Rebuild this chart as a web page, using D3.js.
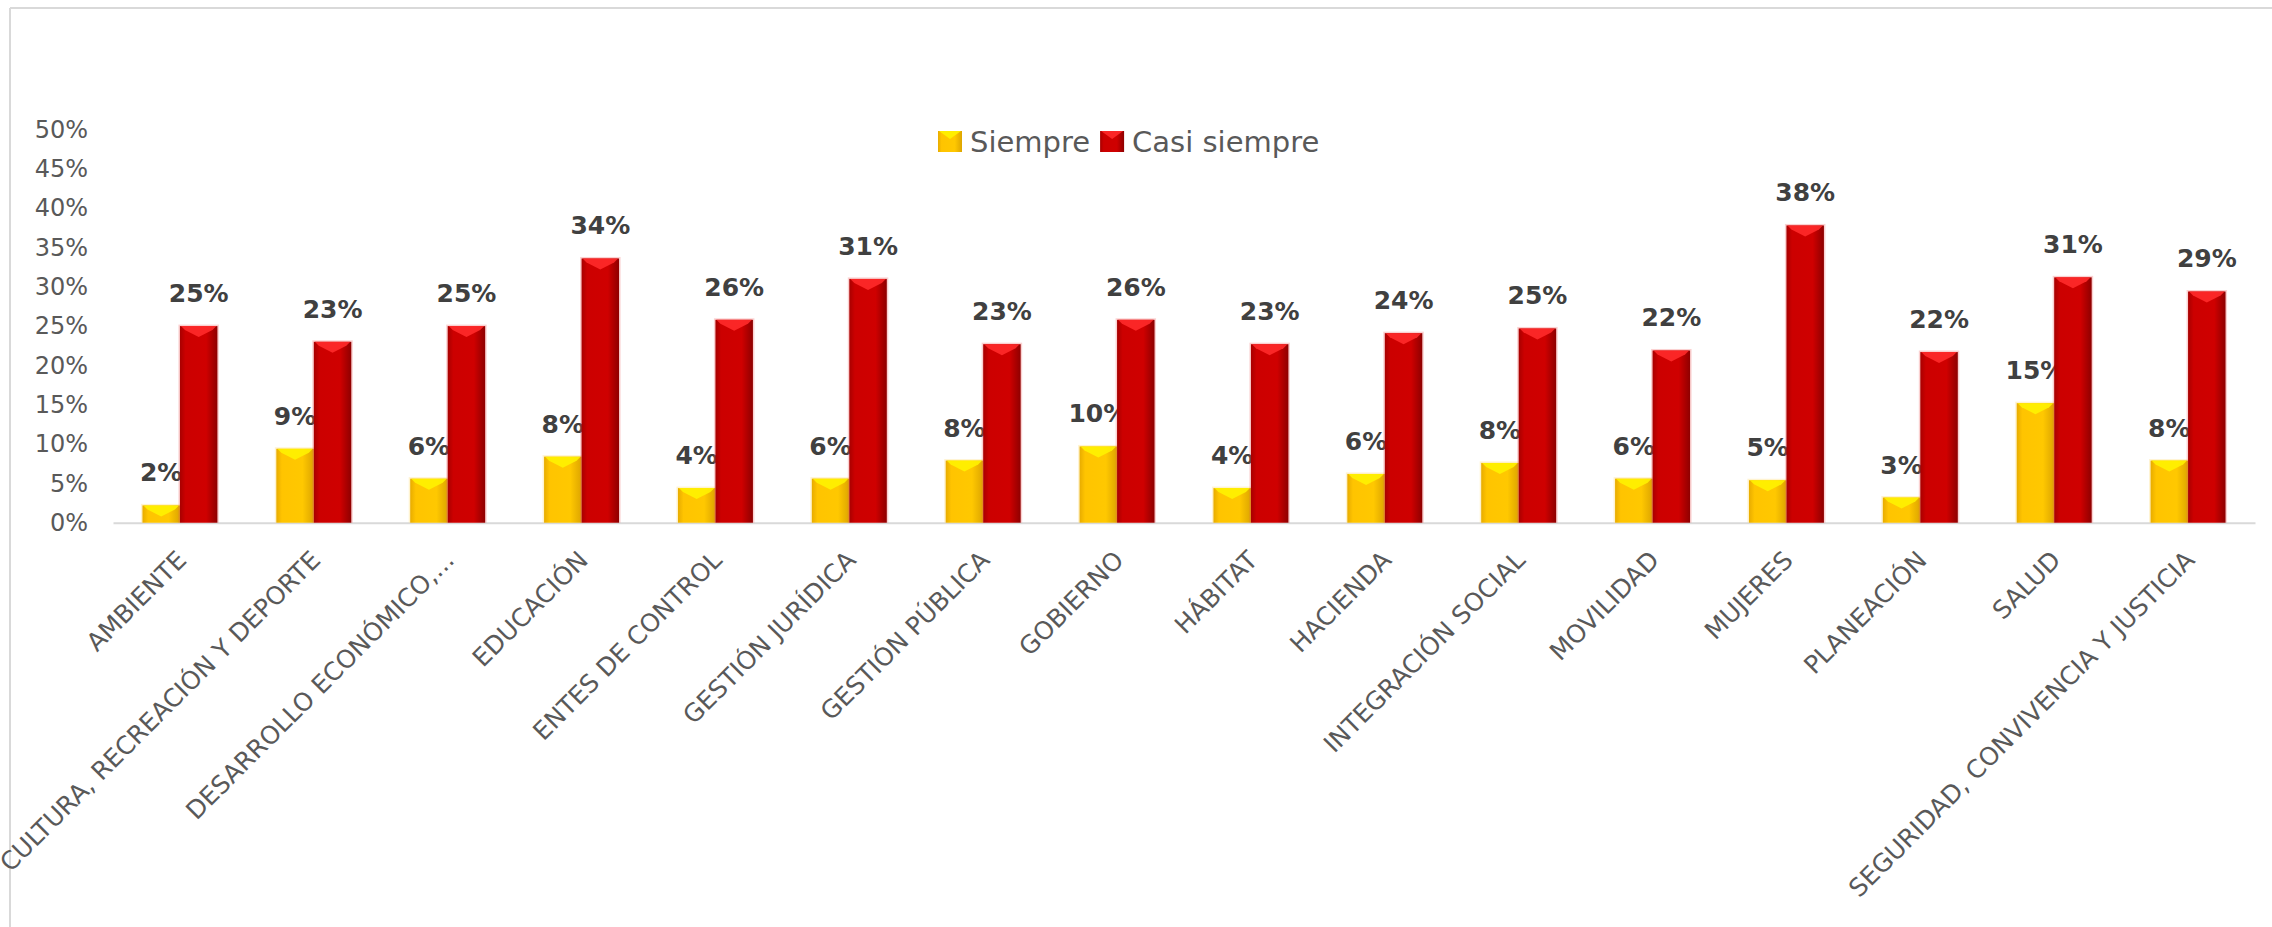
<!DOCTYPE html>
<html>
<head>
<meta charset="utf-8">
<script src="https://cdn.jsdelivr.net/npm/d3@7"></script>
<style>
  html, body { margin: 0; padding: 0; background: #ffffff; }
  svg { display: block; }
</style>
</head>
<body>
<svg id="chart" width="2272" height="927"></svg>
<script>
// ---------------- data ----------------
const categories = [
  "AMBIENTE",
  "CULTURA, RECREACIÓN Y DEPORTE",
  "DESARROLLO ECONÓMICO,...",
  "EDUCACIÓN",
  "ENTES DE CONTROL",
  "GESTIÓN JURÍDICA",
  "GESTIÓN PÚBLICA",
  "GOBIERNO",
  "HÁBITAT",
  "HACIENDA",
  "INTEGRACIÓN SOCIAL",
  "MOVILIDAD",
  "MUJERES",
  "PLANEACIÓN",
  "SALUD",
  "SEGURIDAD, CONVIVENCIA Y JUSTICIA"
];
const seriesNames = ["Siempre", "Casi siempre"];
const siempre      = [0.022, 0.094, 0.056, 0.084, 0.044, 0.056, 0.079, 0.097, 0.044, 0.062, 0.076, 0.056, 0.054, 0.032, 0.152, 0.079];
const casiSiempre  = [0.250, 0.230, 0.250, 0.336, 0.258, 0.310, 0.227, 0.258, 0.227, 0.241, 0.247, 0.219, 0.378, 0.217, 0.312, 0.294];
const yTicks = [0, 0.05, 0.10, 0.15, 0.20, 0.25, 0.30, 0.35, 0.40, 0.45, 0.50];

// ---------------- layout ----------------
const svg = d3.select("#chart");
const W = 2272, H = 927;
const plot = { left: 113, right: 2255, top: 129.5, bottom: 522.7 };

const x0 = d3.scaleBand().domain(categories).range([plot.left, plot.right])
  .paddingInner(0.44).paddingOuter(0.22);
const x1 = d3.scaleBand().domain(seriesNames).range([0, x0.bandwidth()]).padding(0);
const y = d3.scaleLinear().domain([0, 0.5]).range([plot.bottom, plot.top]);
const fmt = d3.format(".0%");

// frame
svg.append("line").attr("x1", 10).attr("x2", W).attr("y1", 8).attr("y2", 8)
  .attr("stroke", "#d9d9d9").attr("stroke-width", 2);
svg.append("line").attr("x1", 10).attr("x2", 10).attr("y1", 8).attr("y2", H)
  .attr("stroke", "#d9d9d9").attr("stroke-width", 2);

// gradients
const defs = svg.append("defs");
function grad(id, stops) {
  const g = defs.append("linearGradient").attr("id", id)
    .attr("x1", "0%").attr("x2", "100%").attr("y1", "0%").attr("y2", "0%");
  stops.forEach(s => g.append("stop").attr("offset", s[0]).attr("stop-color", s[1]));
}
grad("gY", [["0%", "#e8ac00"], ["15%", "#ffc400"], ["70%", "#ffc800"], ["100%", "#dda500"]]);
grad("gR", [["0%", "#a80000"], ["15%", "#cc0000"], ["70%", "#cf0000"], ["100%", "#8e0000"]]);
const fills = { "Siempre": "url(#gY)", "Casi siempre": "url(#gR)" };
const tops  = { "Siempre": "#fff200", "Casi siempre": "#ff2a2a" };
const glow  = { "Siempre": "rgba(255,220,120,0.35)", "Casi siempre": "rgba(240,90,90,0.28)" };

// y axis
const yAxis = svg.append("g").attr("transform", `translate(${plot.left},0)`)
  .call(d3.axisLeft(y).tickValues(yTicks).tickFormat(fmt).tickSize(0).tickPadding(25));
yAxis.select(".domain").remove();
yAxis.selectAll("text")
  .attr("font-family", "DejaVu Sans").attr("font-size", 24).attr("fill", "#595959");

// x axis
const xAxis = svg.append("g").attr("transform", `translate(0,${plot.bottom})`)
  .call(d3.axisBottom(x0).tickSize(0));
xAxis.select(".domain").attr("stroke", "#d9d9d9").attr("stroke-width", 2);
xAxis.selectAll("text")
  .attr("font-family", "DejaVu Sans").attr("font-size", 25).attr("fill", "#595959")
  .attr("text-anchor", "end").attr("x", 0).attr("y", 0).attr("dy", 0)
  .attr("transform", "translate(8,39) rotate(-45)");

// bars
const data = categories.map((c, i) => ({ cat: c, vals: [
  { s: "Siempre", v: siempre[i] },
  { s: "Casi siempre", v: casiSiempre[i] }
]}));

function drawSeries(name) {
  const g = svg.append("g");
  data.forEach(d => {
    const item = d.vals.find(e => e.s === name);
    const bx = x0(d.cat) + x1(name), bw = x1.bandwidth();
    const yt = y(item.v), yb = y(0);
    g.append("rect").attr("x", bx - 1.5).attr("y", yt - 1.5)
      .attr("width", bw + 3).attr("height", yb - yt + 1.5)
      .attr("fill", glow[name]);
    g.append("rect").attr("x", bx).attr("y", yt)
      .attr("width", bw).attr("height", yb - yt)
      .attr("fill", fills[name]);
    g.append("polygon")
      .attr("points", [[bx + 1, yt], [bx + bw - 1, yt], [bx + bw - 5, yt + 4],
                       [bx + bw / 2, yt + 11], [bx + 5, yt + 4]].map(p => p.join(",")).join(" "))
      .attr("fill", tops[name]).attr("opacity", 0.9);
    g.append("text")
      .attr("x", bx + bw / 2).attr("y", yt - 24)
      .attr("text-anchor", "middle")
      .attr("font-family", "DejaVu Sans").attr("font-weight", "bold")
      .attr("font-size", 25).attr("fill", "#404040")
      .text(fmt(item.v));
  });
}
drawSeries("Siempre");
drawSeries("Casi siempre");

// legend
const legend = svg.append("g").attr("transform", "translate(938,142)");
let lx = 0;
seriesNames.forEach(name => {
  legend.append("rect").attr("x", lx).attr("y", -11).attr("width", 24).attr("height", 21)
    .attr("fill", fills[name]);
  legend.append("polygon")
    .attr("points", [[lx + 1, -11], [lx + 23, -11], [lx + 12, -3]].map(p => p.join(",")).join(" "))
    .attr("fill", tops[name]).attr("opacity", 0.9);
  const t = legend.append("text").attr("x", lx + 32).attr("y", 10)
    .attr("font-family", "DejaVu Sans").attr("font-size", 29).attr("fill", "#595959")
    .text(name);
  lx += 32 + t.node().getComputedTextLength() + 10;
});
</script>
</body>
</html>
